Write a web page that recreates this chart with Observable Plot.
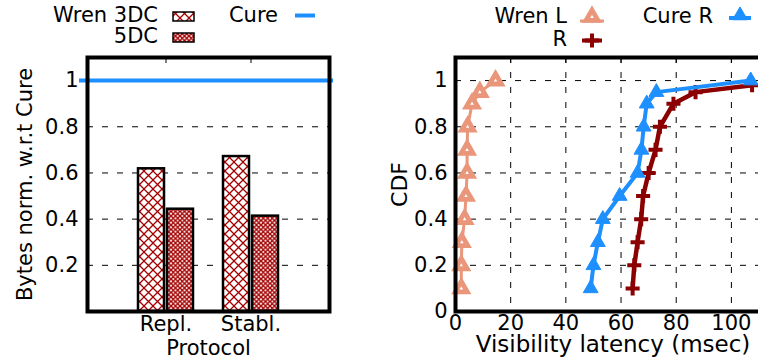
<!DOCTYPE html>
<html><head><meta charset="utf-8">
<script src="https://cdn.jsdelivr.net/npm/d3@7"></script>
<script src="https://cdn.jsdelivr.net/npm/@observablehq/plot@0.6"></script>
<style>
html,body{margin:0;padding:0;background:#fff;}
#wrap{position:relative;width:758px;height:362px;overflow:hidden;font-family:"DejaVu Sans",sans-serif;}
#wrap svg{max-width:none !important;}
#left,#right,#legend{position:absolute;top:0;}
#left{left:0;width:380px;} #right{left:380px;width:386px;} #legend{left:0;pointer-events:none;}
</style></head><body>
<svg width="0" height="0" style="position:absolute">
  <defs>
    <pattern id="hatch3" patternUnits="userSpaceOnUse" width="9" height="9">
      <rect width="9" height="9" fill="white"/>
      <path d="M-1,-1L10,10M10,-1L-1,10" stroke="#a30000" stroke-width="1.3" fill="none"/>
    </pattern>
    <pattern id="hatch5" patternUnits="userSpaceOnUse" width="4.5" height="4.5">
      <rect width="4.5" height="4.5" fill="white"/>
      <path d="M-1,-1L5.5,5.5M5.5,-1L-1,5.5" stroke="#a30000" stroke-width="1.4" fill="none"/>
    </pattern>
  </defs>
</svg>
<div id="wrap"><div id="left"></div><div id="right"></div><svg id="legend" width="758" height="54"></svg></div>
<script>
// ---- Left panel data ----
const protocols = ["Repl.", "Stabl."];
const wren3DC = [0.618, 0.671];
const wren5DC = [0.443, 0.413];
const cureBytes = [1];
const leftYTicks = [0.2, 0.4, 0.6, 0.8, 1];
const leftGrid = [0.2, 0.4, 0.6, 0.8];
const leftLegend = ["Wren 3DC", "5DC", "Cure"];

// ---- Right panel data ----
const cdfLevels = [0.1, 0.2, 0.3, 0.4, 0.5, 0.6, 0.7, 0.8, 0.9, 0.95, 1];
const wrenL = [2.1, 2.1, 2.3, 3.3, 3.8, 4.2, 4.2, 4.4, 6, 8.8, 14.5];
const cureR = [49, 50, 51.6, 53.4, 59.5, 66, 67.4, 68.2, 69.3, 72.8, 107];
const wrenRLevels = [0.1, 0.2, 0.3, 0.4, 0.5, 0.6, 0.7, 0.8, 0.9, 0.95, 0.98];
const wrenR = [64.2, 64.8, 66, 67.3, 68, 70, 72.5, 74.1, 79, 87, 107.5];
const rightXTicks = [0, 20, 40, 60, 80, 100];
const rightYTicks = [0, 0.2, 0.4, 0.6, 0.8, 1];
const rightLegend = ["Wren L", "R", "Cure R"];

const BLUE = "#1e8fff", SALMON = "#e9967a", DARKRED = "#8b0000";
const FONT = "DejaVu Sans";
const dash = {stroke: "black", strokeOpacity: 1, strokeWidth: 1, strokeDasharray: "6,9"};
const fmt = d => String(d);

const barData = protocols.flatMap((p, i) => [
  {protocol: p, series: "3DC", value: wren3DC[i]},
  {protocol: p, series: "5DC", value: wren5DC[i]}
]);

const left = Plot.plot({
  width: 380, height: 362,
  marginLeft: 87, marginRight: 51, marginTop: 57, marginBottom: 51,
  style: {fontFamily: FONT, fontSize: "21px", color: "black", background: "transparent", maxWidth: "none"},
  x: {type: "band", domain: protocols, paddingInner: 0.349, paddingOuter: 0.5815, axis: null},
  y: {domain: [0, 1.1], axis: null},
  marks: [
    Plot.gridY(leftGrid, dash),
    Plot.barY(barData.filter(d => d.series === "3DC"), {x: "protocol", y: "value", fill: "url(#hatch3)", stroke: "black", strokeWidth: 2.5, insetRight: 29}),
    Plot.barY(barData.filter(d => d.series === "5DC"), {x: "protocol", y: "value", fill: "url(#hatch5)", stroke: "black", strokeWidth: 2.5, insetLeft: 29}),
    Plot.ruleY(cureBytes, {stroke: BLUE, strokeWidth: 4, insetLeft: -8, insetRight: -4}),
    Plot.axisY(leftYTicks, {anchor: "left", tickSize: 0, tickPadding: 9, tickFormat: fmt, label: null}),
    Plot.axisX({anchor: "bottom", tickSize: 0, tickPadding: 5, label: null}),
    Plot.axisX({anchor: "top", tickSize: -5, tickFormat: () => "", label: null}),
    Plot.frame({stroke: "black", strokeWidth: 4}),
    Plot.text(["Bytes norm. w.r.t Cure"], {text: d => d, frameAnchor: "left", textAnchor: "middle", lineAnchor: "middle", rotate: -90, dx: -62, fontSize: 21}),
    Plot.text(["Protocol"], {text: d => d, frameAnchor: "bottom", textAnchor: "middle", lineAnchor: "middle", dy: 37, fontSize: 21})
  ]
});
document.getElementById("left").appendChild(left);

const wrenLData = cdfLevels.map((c, i) => ({latency: wrenL[i], cdf: c}));
const cureRData = cdfLevels.map((c, i) => ({latency: cureR[i], cdf: c}));
const wrenRData = wrenRLevels.map((c, i) => ({latency: wrenR[i], cdf: c}));

const right = Plot.plot({
  width: 386, height: 362,
  marginLeft: 75, marginRight: 2, marginTop: 57, marginBottom: 51,
  style: {fontFamily: FONT, fontSize: "21px", color: "black", background: "transparent", maxWidth: "none"},
  x: {domain: [0, 112], axis: null},
  y: {domain: [0, 1.1], axis: null},
  marks: [
    Plot.gridY(rightYTicks.slice(1), dash),
    Plot.gridX(rightXTicks.slice(1), dash),
    Plot.line(wrenLData, {x: "latency", y: "cdf", stroke: SALMON, strokeWidth: 3}),
    Plot.dot(wrenLData, {x: "latency", y: "cdf", symbol: "triangle", r: 4.4, fill: "white", stroke: SALMON, strokeWidth: 4.8}),
    Plot.line(wrenRData, {x: "latency", y: "cdf", stroke: DARKRED, strokeWidth: 4.5}),
    Plot.dot(wrenRData, {x: "latency", y: "cdf", symbol: "plus", r: 4.6, stroke: DARKRED, strokeWidth: 4}),
    Plot.line(cureRData, {x: "latency", y: "cdf", stroke: BLUE, strokeWidth: 4}),
    Plot.dot(cureRData, {x: "latency", y: "cdf", symbol: "triangle", r: 5.5, fill: BLUE, stroke: BLUE, strokeWidth: 1}),
    Plot.axisY(rightYTicks, {anchor: "left", tickSize: 0, tickPadding: 8, tickFormat: fmt, label: null}),
    Plot.axisX(rightXTicks, {anchor: "bottom", tickSize: 0, tickPadding: 4, tickFormat: fmt, label: null}),
    Plot.axisX(rightXTicks.slice(1), {anchor: "top", tickSize: -5, tickFormat: () => "", label: null}),
    Plot.frame({stroke: "black", strokeWidth: 4}),
    Plot.text(["CDF"], {text: d => d, frameAnchor: "left", textAnchor: "middle", lineAnchor: "middle", rotate: -90, dx: -56, fontSize: 22}),
    Plot.text(["Visibility latency (msec)"], {text: d => d, frameAnchor: "bottom", textAnchor: "middle", lineAnchor: "middle", dy: 33, dx: 3, fontSize: 23})
  ]
});
document.getElementById("right").appendChild(right);

// ---- Legends ----
const lg = d3.select("#legend").attr("font-family", FONT).attr("font-size", 21);
const sym = (type, r) => d3.symbol(type, Math.PI * r * r)();
// left legend
lg.append("text").attr("x", 158).attr("y", 22).attr("text-anchor", "end").text(leftLegend[0]);
lg.append("rect").attr("x", 173).attr("y", 12).attr("width", 21).attr("height", 9).attr("fill", "url(#hatch3)").attr("stroke", "black").attr("stroke-width", 1.5);
lg.append("text").attr("x", 158).attr("y", 43).attr("text-anchor", "end").text(leftLegend[1]);
lg.append("rect").attr("x", 173).attr("y", 33).attr("width", 21).attr("height", 9).attr("fill", "url(#hatch5)").attr("stroke", "black").attr("stroke-width", 1.5);
lg.append("text").attr("x", 278).attr("y", 22).attr("text-anchor", "end").text(leftLegend[2]);
lg.append("line").attr("x1", 295).attr("x2", 315).attr("y1", 15.5).attr("y2", 15.5).attr("stroke", BLUE).attr("stroke-width", 4);
// right legend
lg.append("text").attr("x", 567).attr("y", 23).attr("text-anchor", "end").text(rightLegend[0]);
lg.append("line").attr("x1", 580).attr("x2", 604).attr("y1", 21).attr("y2", 21).attr("stroke", SALMON).attr("stroke-width", 3);
lg.append("path").attr("d", sym(d3.symbolTriangle, 4.4)).attr("transform", "translate(592,17)").attr("fill", "white").attr("stroke", SALMON).attr("stroke-width", 4.8);
lg.append("text").attr("x", 567).attr("y", 46).attr("text-anchor", "end").text(rightLegend[1]);
lg.append("line").attr("x1", 582).attr("x2", 602).attr("y1", 40.5).attr("y2", 40.5).attr("stroke", DARKRED).attr("stroke-width", 4);
lg.append("path").attr("d", sym(d3.symbolPlus, 4.6)).attr("transform", "translate(592,40.5)").attr("fill", "none").attr("stroke", DARKRED).attr("stroke-width", 4);
lg.append("text").attr("x", 713).attr("y", 23).attr("text-anchor", "end").text(rightLegend[2]);
lg.append("line").attr("x1", 729).attr("x2", 751).attr("y1", 18).attr("y2", 18).attr("stroke", BLUE).attr("stroke-width", 4);
lg.append("path").attr("d", sym(d3.symbolTriangle, 5.5)).attr("transform", "translate(740,15.5)").attr("fill", BLUE).attr("stroke", BLUE).attr("stroke-width", 1);
</script>
</body></html>
